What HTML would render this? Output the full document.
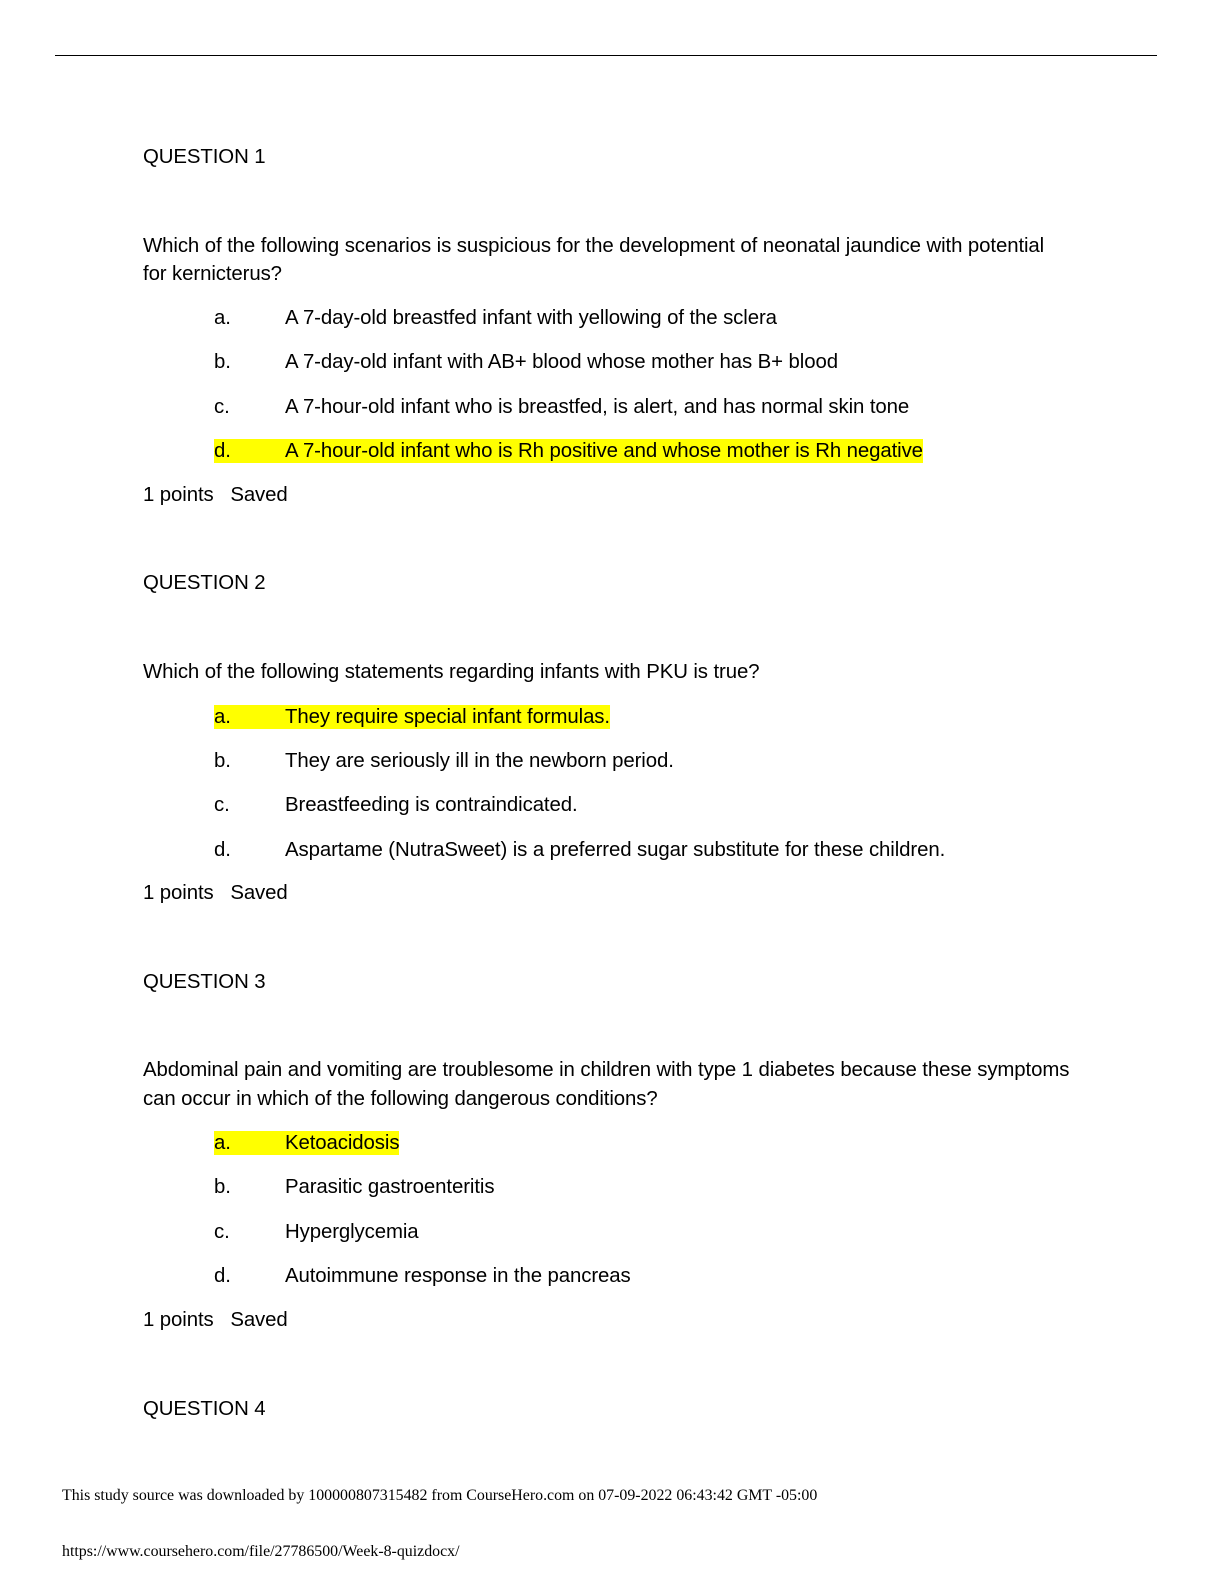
<!DOCTYPE html>
<html><head><meta charset="utf-8"><style>
body{margin:0;width:1224px;height:1584px;background:#fff;position:relative;font-family:"Liberation Sans",sans-serif;color:#000;}
.t{position:absolute;font-size:20.4px;line-height:24px;white-space:nowrap;letter-spacing:-0.1px;}
.hl{background:#ffff00;}
.l{position:absolute;left:214px;font-size:20.4px;line-height:24px;white-space:nowrap;letter-spacing:-0.1px;}
.l span.k{display:inline-block;width:71px;}
.f{position:absolute;left:62px;font-family:"Liberation Serif",serif;font-size:15.9px;line-height:18px;white-space:nowrap;}
</style></head><body>
<div style="position:absolute;left:55px;top:55px;width:1102px;height:1px;background:#000"></div>

<div class="t" style="left:143px;top:145px">QUESTION 1</div>
<div class="t" style="left:143px;top:234px">Which of the following scenarios is suspicious for the development of neonatal jaundice with potential</div>
<div class="t" style="left:143px;top:262px">for kernicterus?</div>
<div class="l" style="top:306px"><span class="k">a.</span>A 7-day-old breastfed infant with yellowing of the sclera</div>
<div class="l" style="top:350px"><span class="k">b.</span>A 7-day-old infant with AB+ blood whose mother has B+ blood</div>
<div class="l" style="top:395px"><span class="k">c.</span>A 7-hour-old infant who is breastfed, is alert, and has normal skin tone</div>
<div class="l hl" style="top:439px"><span class="k">d.</span>A 7-hour-old infant who is Rh positive and whose mother is Rh negative</div>
<div class="t" style="left:143px;top:483px">1 points &nbsp;&nbsp;Saved</div>

<div class="t" style="left:143px;top:571px">QUESTION 2</div>
<div class="t" style="left:143px;top:660px">Which of the following statements regarding infants with PKU is true?</div>
<div class="l hl" style="top:705px"><span class="k">a.</span>They require special infant formulas.</div>
<div class="l" style="top:749px"><span class="k">b.</span>They are seriously ill in the newborn period.</div>
<div class="l" style="top:793px"><span class="k">c.</span>Breastfeeding is contraindicated.</div>
<div class="l" style="top:838px"><span class="k">d.</span>Aspartame (NutraSweet) is a preferred sugar substitute for these children.</div>
<div class="t" style="left:143px;top:881px">1 points &nbsp;&nbsp;Saved</div>

<div class="t" style="left:143px;top:970px">QUESTION 3</div>
<div class="t" style="left:143px;top:1058px">Abdominal pain and vomiting are troublesome in children with type 1 diabetes because these symptoms</div>
<div class="t" style="left:143px;top:1087px">can occur in which of the following dangerous conditions?</div>
<div class="l hl" style="top:1131px"><span class="k">a.</span>Ketoacidosis</div>
<div class="l" style="top:1175px"><span class="k">b.</span>Parasitic gastroenteritis</div>
<div class="l" style="top:1220px"><span class="k">c.</span>Hyperglycemia</div>
<div class="l" style="top:1264px"><span class="k">d.</span>Autoimmune response in the pancreas</div>
<div class="t" style="left:143px;top:1308px">1 points &nbsp;&nbsp;Saved</div>

<div class="t" style="left:143px;top:1397px">QUESTION 4</div>

<div class="f" style="top:1487px">This study source was downloaded by 100000807315482 from CourseHero.com on 07-09-2022 06:43:42 GMT -05:00</div>
<div class="f" style="top:1543px">https://www.coursehero.com/file/27786500/Week-8-quizdocx/</div>
</body></html>
